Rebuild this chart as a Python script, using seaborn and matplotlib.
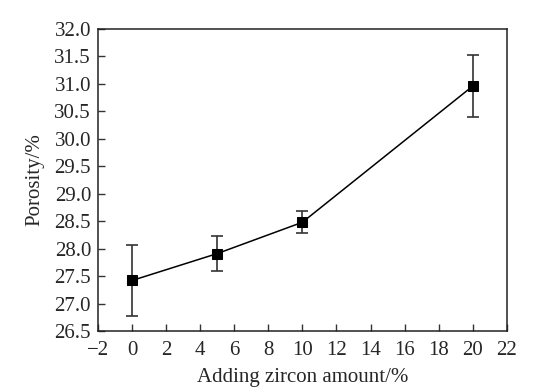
import matplotlib
matplotlib.use("Agg")
import matplotlib.pyplot as plt
import pandas as pd
import seaborn as sns

# Data
zircon = [0, 5, 10, 20]
porosity = [27.42, 27.91, 28.48, 30.96]
err = [0.64, 0.32, 0.20, 0.56]

x_ticks = list(range(-2, 23, 2))
y_ticks = [26.5, 27.0, 27.5, 28.0, 28.5, 29.0, 29.5, 30.0, 30.5, 31.0, 31.5, 32.0]

df = pd.DataFrame({'zircon': zircon, 'porosity': porosity, 'err': err})

sns.set_theme(style="ticks")
plt.rcParams['font.family'] = ['Liberation Serif', 'DejaVu Serif']
plt.rcParams['xtick.direction'] = 'in'
plt.rcParams['ytick.direction'] = 'in'

fig = plt.figure(figsize=(5.34, 3.9), dpi=100)
ax = fig.add_axes([0.1835, 0.1513, 0.7655, 0.7743])

# Error bars first, then line + square markers
ax.errorbar(df['zircon'], df['porosity'], yerr=df['err'], fmt='none',
            ecolor='#333333', elinewidth=1.2, capsize=4, capthick=1.2, zorder=2)
sns.lineplot(data=df, x='zircon', y='porosity', ax=ax, color='black',
             linewidth=1.1, marker='s', markersize=6.5, markeredgecolor='black',
             zorder=3)

ax.set_xlim(-2, 22)
ax.set_ylim(26.5, 32.0)
ax.set_xticks(x_ticks)
ax.set_xticklabels(['\u22122' if t < 0 else str(t) for t in x_ticks])
ax.set_yticks(y_ticks)
ax.set_yticklabels([f"{t:.1f}" for t in y_ticks])
ax.tick_params(axis='both', labelsize=15, length=5, width=1, color='#333333',
               top=False, right=False)
ax.tick_params(axis='x', pad=7)
ax.tick_params(axis='y', pad=5)

for side in ['top', 'right', 'left', 'bottom']:
    ax.spines[side].set_visible(True)
    ax.spines[side].set_linewidth(1.1)
    ax.spines[side].set_color('#222222')

ax.set_xlabel('Adding zircon amount/%', fontsize=15, labelpad=6)
ax.set_ylabel('Porosity/%', fontsize=15, labelpad=7)

plt.savefig('out.png', dpi=100)
plt.close()
